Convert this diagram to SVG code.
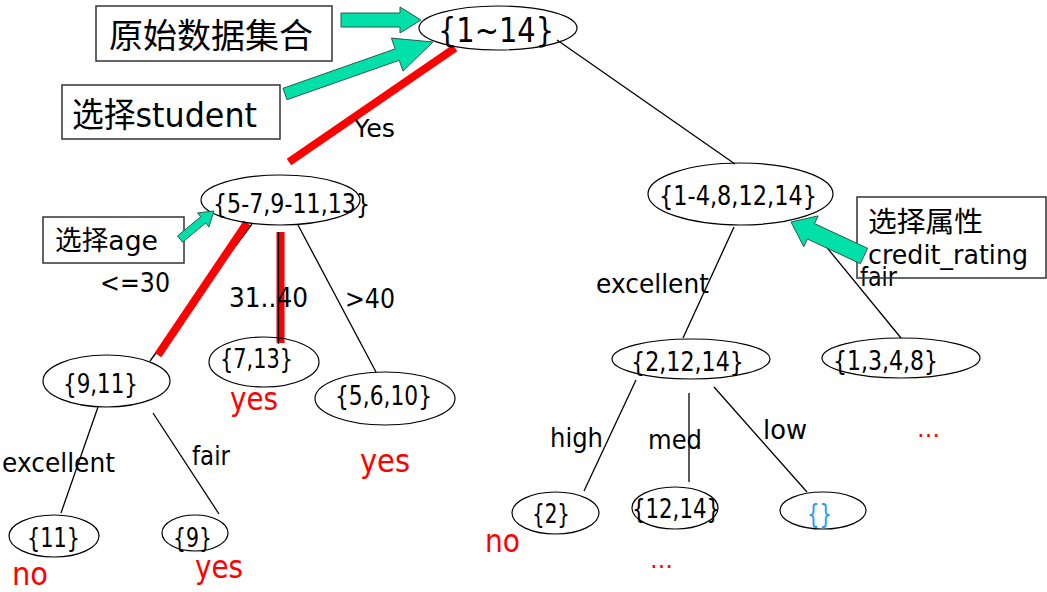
<svg xmlns="http://www.w3.org/2000/svg" width="1047" height="592" viewBox="0 0 1047 592">
<style>
text{font-family:"DejaVu Sans","Noto Sans CJK SC",sans-serif;fill:#000;}
.n{font-size:27px;}
.lb{font-size:27px;}
.res{font-size:32px;fill:#ff0000;}
.dots{font-size:24px;fill:#ff0000;}
.ell{fill:none;stroke:#000;stroke-width:1.2;}
.ln{stroke:#000;stroke-width:1.3;fill:none;}
.red{stroke:#ff0000;stroke-width:8;fill:none;}
.box{fill:none;stroke:#333;stroke-width:1.5;}
.ga{fill:#00e0a8;stroke:#2d5a4c;stroke-width:1;}
</style>
<rect width="1047" height="592" fill="#fff"/>
<g id="connectors">
<line class="ln" x1="557" y1="40" x2="735" y2="164"/>
<line class="ln" x1="455" y1="48" x2="289" y2="162"/>
<line class="ln" x1="252" y1="224" x2="150" y2="361"/>
<line class="ln" x1="298" y1="225" x2="376" y2="372"/>
<line class="ln" x1="98" y1="407" x2="61" y2="513"/>
<line class="ln" x1="153" y1="413" x2="219" y2="514"/>
<line class="ln" x1="734" y1="227" x2="683" y2="338"/>
<line class="ln" x1="806" y1="222" x2="901" y2="338"/>
<line class="ln" x1="636" y1="380" x2="584" y2="491"/>
<line class="ln" x1="689" y1="393" x2="689" y2="482"/>
<line class="ln" x1="714" y1="387" x2="807" y2="492"/>
<line class="red" x1="455" y1="48" x2="289" y2="162"/>
<line class="red" x1="247" y1="223" x2="158" y2="355"/>
<line class="red" x1="280.5" y1="232" x2="280.5" y2="343" stroke-width="7"/>
<line class="ln" x1="278.5" y1="232" x2="278.5" y2="344" stroke-width="1.6"/>
<text x="354" y="137" font-size="25" textLength="41" lengthAdjust="spacingAndGlyphs">Yes</text>
<text class="lb" x="100" y="292" textLength="70" lengthAdjust="spacingAndGlyphs">&lt;=30</text>
<text class="lb" x="229" y="307" textLength="79" lengthAdjust="spacingAndGlyphs">31..40</text>
<text class="lb" x="345" y="308" textLength="50" lengthAdjust="spacingAndGlyphs">&gt;40</text>
<text class="lb" x="2" y="472" textLength="113" lengthAdjust="spacingAndGlyphs">excellent</text>
<text class="lb" x="192" y="465" textLength="38" lengthAdjust="spacingAndGlyphs">fair</text>
<text class="lb" x="596" y="293" textLength="113" lengthAdjust="spacingAndGlyphs">excellent</text>
<text class="lb" x="860" y="286" textLength="37" lengthAdjust="spacingAndGlyphs">fair</text>
<text class="lb" x="550" y="447" textLength="53" lengthAdjust="spacingAndGlyphs">high</text>
<text class="lb" x="648" y="449" textLength="54" lengthAdjust="spacingAndGlyphs">med</text>
<text class="lb" x="763" y="439" textLength="44" lengthAdjust="spacingAndGlyphs">low</text>
</g>
<g id="n-root"><ellipse class="ell" cx="498" cy="28" rx="79" ry="22"/><text x="438" y="42" font-size="33" textLength="116" lengthAdjust="spacingAndGlyphs">{1~14}</text></g>
<g id="n-left"><ellipse class="ell" cx="280.5" cy="200" rx="79.5" ry="25"/><text class="n" x="213" y="213" textLength="157" lengthAdjust="spacingAndGlyphs">{5-7,9-11,13}</text></g>
<g id="n-9-11"><ellipse class="ell" cx="106.5" cy="381" rx="63.5" ry="26"/><text class="n" x="63" y="393" textLength="75" lengthAdjust="spacingAndGlyphs">{9,11}</text></g>
<g id="n-7-13"><ellipse class="ell" cx="264" cy="362" rx="55" ry="25"/><text class="n" x="220" y="368" textLength="73" lengthAdjust="spacingAndGlyphs">{7,13}</text><text class="res" x="230" y="410" textLength="48" lengthAdjust="spacingAndGlyphs">yes</text></g>
<g id="n-5-6-10"><ellipse class="ell" cx="385" cy="398.5" rx="70" ry="26.5"/><text class="n" x="335" y="405" textLength="97" lengthAdjust="spacingAndGlyphs">{5,6,10}</text><text class="res" x="360" y="472" textLength="50" lengthAdjust="spacingAndGlyphs">yes</text></g>
<g id="n-11"><ellipse class="ell" cx="54" cy="536" rx="45" ry="21"/><text class="n" x="27" y="547" textLength="53" lengthAdjust="spacingAndGlyphs">{11}</text><text class="res" x="12" y="585" textLength="36" lengthAdjust="spacingAndGlyphs">no</text></g>
<g id="n-9"><ellipse class="ell" cx="195" cy="533" rx="33" ry="18"/><text class="n" x="173" y="547" textLength="39" lengthAdjust="spacingAndGlyphs">{9}</text><text class="res" x="195" y="578" textLength="48" lengthAdjust="spacingAndGlyphs">yes</text></g>
<g id="n-right"><ellipse class="ell" cx="740.5" cy="194" rx="92.5" ry="31"/><text class="n" x="659" y="205" textLength="158" lengthAdjust="spacingAndGlyphs">{1-4,8,12,14}</text></g>
<g id="n-2-12-14"><ellipse class="ell" cx="691" cy="359" rx="79" ry="20"/><text class="n" x="631" y="371" textLength="113" lengthAdjust="spacingAndGlyphs">{2,12,14}</text></g>
<g id="n-1-3-4-8"><ellipse class="ell" cx="901" cy="358" rx="79" ry="20"/><text class="n" x="833" y="370" textLength="105" lengthAdjust="spacingAndGlyphs">{1,3,4,8}</text><text class="dots" x="917" y="437" textLength="23" lengthAdjust="spacingAndGlyphs">…</text></g>
<g id="n-2"><ellipse class="ell" cx="555.5" cy="513" rx="43.5" ry="21"/><text class="n" x="532" y="523" textLength="38" lengthAdjust="spacingAndGlyphs">{2}</text><text class="res" x="485" y="552" textLength="35" lengthAdjust="spacingAndGlyphs">no</text></g>
<g id="n-12-14"><ellipse class="ell" cx="675" cy="508" rx="43" ry="21"/><text class="n" x="632" y="518" textLength="88" lengthAdjust="spacingAndGlyphs">{12,14}</text><text class="dots" x="650" y="568" textLength="23" lengthAdjust="spacingAndGlyphs">…</text></g>
<g id="n-empty"><ellipse class="ell" cx="823" cy="510.5" rx="43" ry="18.5"/><text class="n" x="807" y="523" textLength="25" lengthAdjust="spacingAndGlyphs" style="fill:#1a9cf0">{}</text></g>
<g id="note-data"><rect class="box" x="96" y="6" width="236" height="55"/><text x="109" y="48" font-size="34" textLength="204" lengthAdjust="spacingAndGlyphs">原始数据集合</text></g>
<g id="note-student"><rect class="box" x="62" y="85" width="218" height="54"/><text x="72" y="127" font-size="34" textLength="185" lengthAdjust="spacingAndGlyphs">选择student</text></g>
<g id="note-age"><rect class="box" x="43" y="217" width="141" height="46"/><text x="55" y="250" font-size="27" textLength="103" lengthAdjust="spacingAndGlyphs">选择age</text></g>
<g id="note-credit"><rect class="box" x="857" y="197" width="189" height="81"/></g>
<g id="arrows">
<polygon class="ga" points="341,13 400,13 400,7 421,20 400,33 400,27 341,27"/>
<polygon class="ga" points="283,88.3 395.2,48.9 391.4,38.1 433,42 403,71.1 399.2,60.3 287,99.7"/>
<polygon class="ga" points="177.5,235.9 200.7,216.8 197.5,212.9 214,211 208.9,226.9 205.7,223 182.5,242.1"/>
<polygon class="ga" points="867.6,248.3 814.5,223.6 818.1,215.9 791,222 803.8,246.7 807.4,239 860.4,263.7"/>
</g>
<g id="note-credit-text"><text x="868" y="232" font-size="28" textLength="115" lengthAdjust="spacingAndGlyphs">选择属性</text><text x="868" y="264" font-size="27" textLength="160" lengthAdjust="spacingAndGlyphs">credit_rating</text></g>
</svg>
